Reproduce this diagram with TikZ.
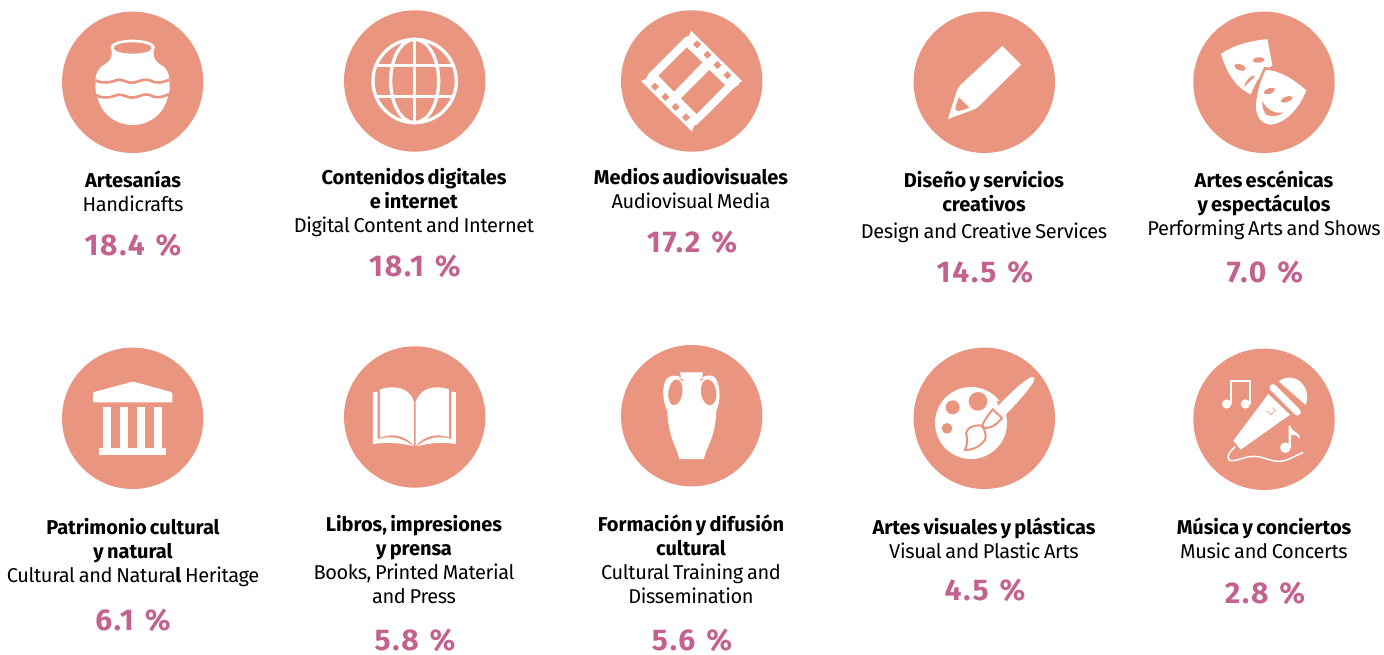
\documentclass[tikz,border=0pt]{standalone}
\usepackage{fontspec}
\setmainfont{Fira Sans}[WordSpace=0.75,LetterSpace=-1.8,BoldFeatures={LetterSpace=-0.2,WordSpace=0.7}]
\newfontfamily\pctfont{Fira Sans}[LetterSpace=6]
\definecolor{salmon}{HTML}{E9957F}
\definecolor{rose}{HTML}{C4628F}
\newcommand{\pctval}[1]{#1\ \hspace{2pt}\%}
\tikzset{
  disc/.style={circle,fill=salmon,minimum size=141.4pt,inner sep=0pt,outer sep=0pt},
  lab/.style={font=\fontsize{20}{24}\selectfont,align=center,anchor=north,inner sep=0pt,text=black},
  pct/.style={font=\pctfont\bfseries\fontsize{30}{30}\selectfont,anchor=base,inner sep=0pt,text=rose},
  ink/.style={fill=white,draw=none},
  cut/.style={fill=salmon,draw=none},
  wline/.style={draw=white,fill=none},
  sline/.style={draw=salmon,fill=none},
}
\begin{document}
\begin{tikzpicture}[x=1pt,y=-1pt]
\useasboundingbox (0,0) rectangle (1384,655);
% discs
\node[disc] (c1) at (132.7,82.3) {};
\node[disc] (c2) at (414.7,81) {};
\node[disc] (c3) at (691.7,81) {};
\node[disc] (c4) at (984.3,82.3) {};
\node[disc] (c5) at (1264,82.3) {};
\node[disc] (c6) at (132.7,418.3) {};
\node[disc] (c7) at (414.7,417) {};
\node[disc] (c8) at (691.7,415.7) {};
\node[disc] (c9) at (984.3,418.3) {};
\node[disc] (c10) at (1264,419.3) {};
% vase
\begin{scope}[shift={(50,5)},scale=1/3]
\fill[ink] (183,125) .. controls (185,145) and (192,160) .. (165,178) .. controls (145,188) and (135,205) .. (137,230) .. controls (135,250) and (137,265) .. (143,278) .. controls (155,330) and (200,360) .. (248,360) .. controls (296,360) and (340,330) .. (353,278) .. controls (360,260) and (360,250) .. (358,225) .. controls (358,205) and (350,188) .. (330,178) .. controls (305,160) and (310,145) .. (313,125) -- cycle;
\fill[ink] (248,127) ellipse [x radius=67,y radius=23];
\fill[cut] (248,129) ellipse [x radius=57,y radius=17];
\draw[sline,line width=2.6pt] (137,226) .. controls (160,238) and (180,232) .. (205,224) .. controls (225,224) and (235,238) .. (255,232) .. controls (270,228) and (285,220) .. (300,226) .. controls (320,238) and (340,232) .. (358,224);
\draw[sline,line width=2.6pt] (137,270) .. controls (160,282) and (180,278) .. (205,269) .. controls (225,268) and (235,282) .. (255,277) .. controls (270,273) and (285,265) .. (300,270) .. controls (320,282) and (340,276) .. (358,267);
\end{scope}
% globe
\begin{scope}[shift={(50,5)},scale=1/3]
\coordinate (g) at (1094,228);
\draw[wline,line width=3.3pt] (g) circle [radius=125];
\draw[wline,line width=3.3pt] (g) ellipse [x radius=72,y radius=125];
\draw[wline,line width=3.3pt] (1094,103) -- (1094,353);
\draw[wline,line width=3.3pt] (979,182) -- (1209,182);
\draw[wline,line width=3.3pt] (979,274) -- (1209,274);
\end{scope}
% film
\begin{scope}[shift={(610,5)},scale=1/3]
\fill[ink] (243,77) -- (396,228) -- (388,233) -- (385,240) -- (374,247) -- (262,358) -- (252,362) -- (246,380) -- (93,228) -- (108,222) -- (115,207) -- (225,97) -- (237,92) -- cycle;
\fill[cut] (230,127) -- (277,172) -- (192,260) -- (145,212) -- cycle;
\fill[cut] (298,195) -- (345,240) -- (260,327) -- (213,280) -- cycle;
\foreach \hx/\hy in {261/118,292/149,322/180,352/211,135/245,166/276,197/306,228/337}
  \fill[cut] (\hx-12,\hy) -- (\hx,\hy-12) -- (\hx+12,\hy) -- (\hx,\hy+12) -- cycle;
\end{scope}
% pencil
\begin{scope}[shift={(610,5)},scale=1/3]
\fill[ink] (1177,123) -- (1233,179) -- (1110,300) .. controls (1100,310) and (1095,313) .. (1085,316) -- (1014,342) -- (1038,265) .. controls (1042,250) and (1050,240) .. (1060,232) -- cycle;
\fill[cut] (1047,277) -- (1078,308) .. controls (1060,315) and (1050,318) .. (1043,318) .. controls (1035,318) and (1035,310) .. (1037,303) -- cycle;
\end{scope}
% masks
\begin{scope}[shift={(1180,5)},scale=1/3]
\fill[ink] (123,147) .. controls (160,120) and (210,108) .. (255,103) -- (262,103) -- (277,180) -- (232,225) -- (212,268) .. controls (170,250) and (140,205) .. (123,147) -- cycle;
\fill[cut,rotate around={-20:(180,187)}] (180,187) ellipse [x radius=18,y radius=9];
\fill[cut,rotate around={5:(236,165)}] (236,165) ellipse [x radius=18,y radius=8];
\fill[cut] (192,247) .. controls (197,225) and (210,212) .. (225,212) .. controls (222,222) and (207,228) .. (192,247) -- cycle;
\draw[fill=white,draw=salmon,line width=2.5pt] (255,190) .. controls (300,192) and (345,220) .. (384,255) .. controls (360,315) and (320,358) .. (272,363) .. controls (235,360) and (222,330) .. (224,295) .. controls (228,255) and (240,220) .. (255,190) -- cycle;
\fill[cut,rotate around={20:(268,258)}] (268,258) ellipse [x radius=18,y radius=8];
\fill[cut,rotate around={20:(320,283)}] (320,283) ellipse [x radius=19,y radius=8];
\fill[cut] (247,288) .. controls (260,315) and (285,328) .. (312,322) .. controls (295,335) and (275,336) .. (260,330) .. controls (250,320) and (246,305) .. (247,288) -- cycle;
\end{scope}
% temple
\begin{scope}[shift={(50,340)},scale=1/3]
\fill[ink] (129,160) -- (133,156) -- (240,127) -- (250,125) -- (258,127) -- (363,156) -- (367,160) -- (367,187) -- (129,187) -- cycle;
\foreach \cx in {159,211,262,313}
  \fill[ink] (\cx,200) rectangle (\cx+23,326);
\fill[ink] (148,325) rectangle (348,345);
\end{scope}
% book
\begin{scope}[shift={(50,340)},scale=1/3]
\fill[ink] (990,148) .. controls (1030,135) and (1080,140) .. (1092,187) -- (1092,318) .. controls (1065,285) and (1030,280) .. (990,292) -- cycle;
\fill[ink] (1097,187) .. controls (1110,140) and (1160,135) .. (1197,148) -- (1197,292) .. controls (1160,280) and (1125,285) .. (1097,318) -- cycle;
\fill[ink] (969,157) -- (983,155) -- (983,297) .. controls (1030,285) and (1060,295) .. (1090,319) .. controls (1050,308) and (1010,306) .. (969,312) -- cycle;
\fill[ink] (1218,157) -- (1204,155) -- (1204,297) .. controls (1160,285) and (1130,295) .. (1100,319) .. controls (1140,308) and (1180,306) .. (1218,312) -- cycle;
\end{scope}
% amphora
\begin{scope}[shift={(610,340)},scale=1/3]
\fill[ink] (210,97) -- (279,97) -- (276,112) .. controls (285,108) and (300,103) .. (312,110) .. controls (330,125) and (335,180) .. (319,212) .. controls (318,260) and (305,300) .. (290,330) -- (281,357) -- (208,357) -- (200,330) .. controls (185,300) and (173,260) .. (172,212) .. controls (155,180) and (155,125) .. (175,112) .. controls (190,103) and (205,108) .. (213,112) -- cycle;
\fill[cut,rotate around={-8:(196,157)}] (196,157) ellipse [x radius=21,y radius=39];
\fill[cut,rotate around={8:(296,157)}] (296,157) ellipse [x radius=23,y radius=39];
\fill[cut] (205,112) -- (220,120) -- (218,124) -- cycle;
\fill[cut] (283,112) -- (270,120) -- (272,124) -- cycle;
\end{scope}
% palette
\begin{scope}[shift={(610,340)},scale=1/3]
\fill[ink] (1083,249) circle [radius=108];
\fill[cut] (1028,202) circle [radius=21];
\fill[cut] (1104,184) circle [radius=28];
\fill[cut] (1011,265) circle [radius=16];
\fill[cut] (1160,185) -- (1195,175) -- (1195,225) -- (1175,215) -- cycle;
\draw[fill=white,draw=salmon,line width=2pt] (1065,330) .. controls (1075,305) and (1072,295) .. (1068,280) .. controls (1072,262) and (1090,255) .. (1112,256) .. controls (1125,265) and (1130,285) .. (1125,300) .. controls (1110,320) and (1090,330) .. (1065,330) -- cycle;
\draw[fill=white,draw=salmon,line width=2pt] (1148,208) -- (1176,234) .. controls (1155,260) and (1135,267) .. (1120,263) .. controls (1113,255) and (1125,238) .. (1148,208) -- cycle;
\fill[ink] (1158,205) .. controls (1190,170) and (1230,130) .. (1262,112) .. controls (1273,108) and (1275,115) .. (1271,125) .. controls (1245,165) and (1215,195) .. (1184,227) -- cycle;
\end{scope}
% microphone
\begin{scope}[shift={(1180,340)},scale=1/3]
\fill[ink] (296,124) .. controls (320,105) and (355,112) .. (370,135) .. controls (383,155) and (385,175) .. (377,195) -- cycle;
\draw[wline,line width=7pt,line cap=round] (279,143) -- (352,216);
\fill[ink] (265,162) -- (330,224) -- (182,329) -- (160,302) -- cycle;
\draw[wline,line width=1.5pt] (165,320) .. controls (150,335) and (135,350) .. (150,362) .. controls (175,365) and (195,345) .. (235,350) .. controls (270,358) and (290,372) .. (325,358) -- (370,337);
\draw[sline,line width=.6pt] (262,213) -- (272,224) -- (287,212) -- (277,203);
\fill[ink] (140,192) circle [radius=14];
\fill[ink] (196,192) circle [radius=14];
\draw[wline,line width=2pt] (152,192) -- (152,124) -- (209,124) -- (209,192);
\fill[ink] (316,323) circle [radius=16];
\fill[ink] (326,323) -- (326,258) -- (332,258) .. controls (335,280) and (365,275) .. (358,298) .. controls (352,282) and (340,285) .. (333,285) -- (333,323) -- cycle;
\end{scope}
% labels
\node[lab] (t1) at (133,171) {\textbf{Artesanías}\\Handicrafts};
\node[lab] (t2) at (414,168) {\textbf{Contenidos digitales}\\\textbf{e internet}\\Digital Content and Internet};
\node[lab] (t3) at (691,168) {\textbf{Medios audiovisuales}\\Audiovisual Media};
\node[lab] (t4) at (984,171) {\textbf{Diseño y servicios}\\\textbf{creativos}\\[3pt]Design and Creative Services};
\node[lab] (t5) at (1264,171) {\textbf{Artes escénicas}\\\textbf{y espectáculos}\\Performing Arts and Shows};
\node[lab] (t6) at (133,518) {\textbf{Patrimonio cultural}\\\textbf{y natural}\\Cultural and Natura\textbf{l} Heritage};
\node[lab] (t7) at (414,515) {\textbf{Libros, impresiones}\\\textbf{y prensa}\\Books, Printed Material\\and Press};
\node[lab] (t8) at (691,515) {\textbf{Formación y difusión}\\\textbf{cultural}\\Cultural Training and\\Dissemination};
\node[lab] (t9) at (984,518) {\textbf{Artes visuales y plásticas}\\Visual and Plastic Arts};
\node[lab] (t10) at (1264,518) {\textbf{Música y conciertos}\\Music and Concerts};
% percentages
\node[pct] (p1) at (133,255) {\pctval{18.4}};
\node[pct] (p2) at (415,276) {\pctval{18.1}};
\node[pct] (p3) at (692,252) {\pctval{17.2}};
\node[pct] (p4) at (985,282) {\pctval{14.5}};
\node[pct] (p5) at (1265,282) {\pctval{7.0}};
\node[pct] (p6) at (133,630) {\pctval{6.1}};
\node[pct] (p7) at (415,650) {\pctval{5.8}};
\node[pct] (p8) at (692,650) {\pctval{5.6}};
\node[pct] (p9) at (985,600) {\pctval{4.5}};
\node[pct] (p10) at (1265,603) {\pctval{2.8}};
\end{tikzpicture}
\end{document}
